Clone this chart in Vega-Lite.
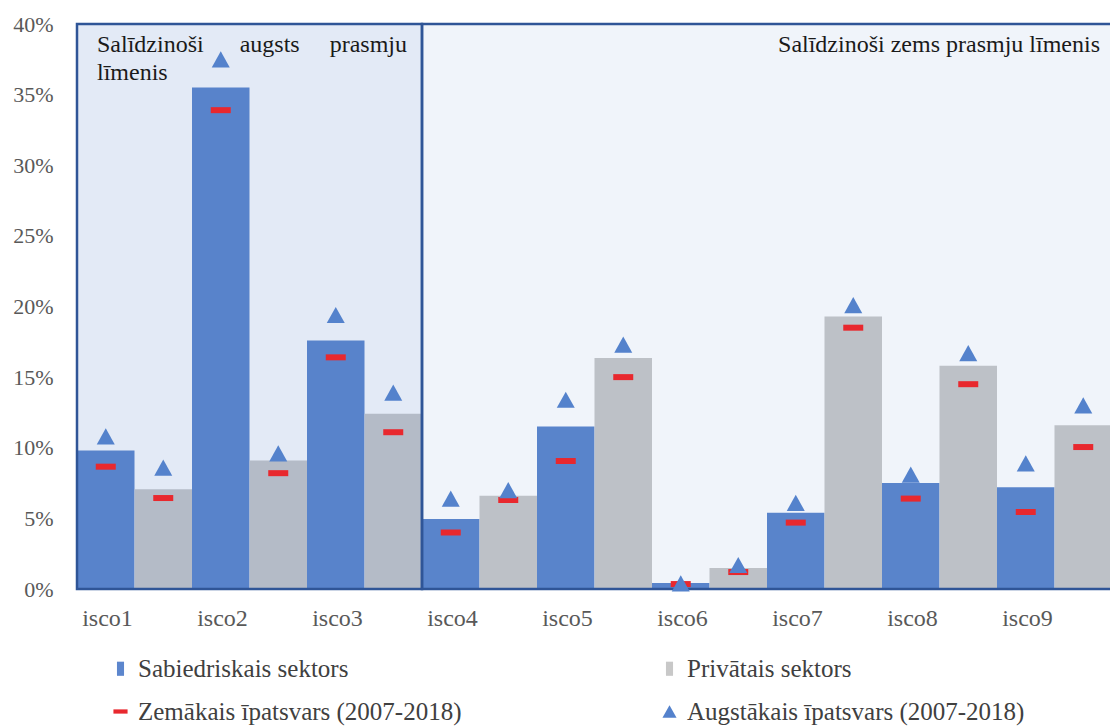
{
  "$schema": "https://vega.github.io/schema/vega-lite/v6.json",
  "autosize": {"type": "none"},
  "padding": {"left": 77, "top": 24, "right": 0, "bottom": 137},
  "width": 1035,
  "height": 565,
  "background": "white",
  "view": {"stroke": null},
  "config": {
    "font": "Liberation Serif",
    "legend": {
      "orient": "none",
      "legendX": 31,
      "legendY": 632,
      "direction": "horizontal",
      "columns": 2,
      "columnPadding": 195,
      "rowPadding": 17,
      "labelFont": "Liberation Serif",
      "labelFontSize": 25,
      "labelColor": "#404040",
      "labelLimit": 500,
      "symbolSize": 200,
      "symbolStrokeWidth": 0,
      "labelOffset": 5,
      "title": null
    }
  },
  "datasets": {
    "bars": [
      {"isco": "isco1", "sector": "Sabiedriskais sektors", "value": 0.098, "low": 0.0866, "high": 0.108},
      {"isco": "isco1", "sector": "Privātais sektors", "value": 0.0707, "low": 0.0644, "high": 0.086},
      {"isco": "isco2", "sector": "Sabiedriskais sektors", "value": 0.355, "low": 0.339, "high": 0.375},
      {"isco": "isco2", "sector": "Privātais sektors", "value": 0.091, "low": 0.082, "high": 0.096},
      {"isco": "isco3", "sector": "Sabiedriskais sektors", "value": 0.176, "low": 0.164, "high": 0.194},
      {"isco": "isco3", "sector": "Privātais sektors", "value": 0.124, "low": 0.111, "high": 0.139},
      {"isco": "isco4", "sector": "Sabiedriskais sektors", "value": 0.0496, "low": 0.040, "high": 0.064},
      {"isco": "isco4", "sector": "Privātais sektors", "value": 0.066, "low": 0.063, "high": 0.070},
      {"isco": "isco5", "sector": "Sabiedriskais sektors", "value": 0.115, "low": 0.0906, "high": 0.134},
      {"isco": "isco5", "sector": "Privātais sektors", "value": 0.1635, "low": 0.150, "high": 0.173},
      {"isco": "isco6", "sector": "Sabiedriskais sektors", "value": 0.0042, "low": 0.0035, "high": 0.004},
      {"isco": "isco6", "sector": "Privātais sektors", "value": 0.0149, "low": 0.012, "high": 0.017},
      {"isco": "isco7", "sector": "Sabiedriskais sektors", "value": 0.054, "low": 0.047, "high": 0.061},
      {"isco": "isco7", "sector": "Privātais sektors", "value": 0.193, "low": 0.185, "high": 0.201},
      {"isco": "isco8", "sector": "Sabiedriskais sektors", "value": 0.075, "low": 0.064, "high": 0.081},
      {"isco": "isco8", "sector": "Privātais sektors", "value": 0.158, "low": 0.145, "high": 0.167},
      {"isco": "isco9", "sector": "Sabiedriskais sektors", "value": 0.072, "low": 0.0545, "high": 0.089},
      {"isco": "isco9", "sector": "Privātais sektors", "value": 0.116, "low": 0.1005, "high": 0.130}
    ],
    "regions": [
      {"start": "isco1", "end": "isco3", "region": "high"},
      {"start": "isco4", "end": "isco9", "region": "low"}
    ]
  },
  "layer": [
    {
      "data": {"name": "bars"},
      "mark": {"type": "bar", "stroke": null},
      "encoding": {
        "x": {
          "field": "isco", "type": "nominal",
          "scale": {"domain": ["isco1","isco2","isco3","isco4","isco5","isco6","isco7","isco8","isco9"], "paddingInner": 0, "paddingOuter": 0},
          "axis": {"title": null, "labelAngle": 0, "domain": false, "ticks": false, "grid": false, "labelOffset": -27, "labelFont": "Liberation Serif", "labelFontSize": 24, "labelColor": "#595959", "labelPadding": 17}
        },
        "xOffset": {"field": "sector", "type": "nominal", "scale": {"domain": ["Sabiedriskais sektors", "Privātais sektors"], "paddingInner": 0, "paddingOuter": 0}},
        "y": {
          "field": "value", "type": "quantitative",
          "scale": {"domain": [0, 0.4], "nice": false},
          "axis": {"title": null, "values": [0,0.05,0.1,0.15,0.2,0.25,0.3,0.35,0.4], "format": ".0%", "domain": false, "ticks": false, "grid": false, "labelFont": "Liberation Serif", "labelFontSize": 22, "labelColor": "#595959", "labelPadding": 24}
        },
        "color": {
          "field": "sector", "type": "nominal",
          "scale": {
            "domain": ["Sabiedriskais sektors", "Privātais sektors", "Zemākais īpatsvars (2007-2018)", "Augstākais īpatsvars (2007-2018)"],
            "range": ["#5C86CD", "#C8C8C8", "#E8282E", "#5482CC"]
          }
        }
      }
    },
    {
      "data": {"name": "regions"},
      "mark": {"type": "rect", "fill": "#4472C4", "stroke": "#2F5597", "strokeWidth": 2.5, "strokeOpacity": 1},
      "encoding": {
        "x": {"field": "start", "type": "nominal", "bandPosition": 0},
        "x2": {"field": "end", "bandPosition": 1},
        "y": {"datum": 0.4, "type": "quantitative"},
        "y2": {"datum": 0},
        "fillOpacity": {"condition": {"test": "datum.region === 'high'", "value": 0.15}, "value": 0.08}
      }
    },
    {
      "data": {"name": "bars"},
      "mark": {"type": "point", "filled": true, "opacity": 1, "size": 400, "strokeWidth": 0},
      "encoding": {
        "x": {"field": "isco", "type": "nominal"},
        "xOffset": {"field": "sector", "type": "nominal"},
        "y": {"field": "low", "type": "quantitative"},
        "color": {"datum": "Zemākais īpatsvars (2007-2018)"},
        "shape": {
          "datum": "Zemākais īpatsvars (2007-2018)",
          "scale": {
            "domain": ["Sabiedriskais sektors", "Privātais sektors", "Zemākais īpatsvars (2007-2018)", "Augstākais īpatsvars (2007-2018)"],
            "range": ["M-0.5,-1H0.5V1H-0.5Z", "M-0.5,-1H0.5V1H-0.5Z", "M-1,-0.3H1V0.3H-1Z", "M-1,0.9L0,-0.9L1,0.9Z"]
          }
        }
      }
    },
    {
      "data": {"name": "bars"},
      "mark": {"type": "point", "filled": true, "opacity": 1, "size": 324, "strokeWidth": 0},
      "encoding": {
        "x": {"field": "isco", "type": "nominal"},
        "xOffset": {"field": "sector", "type": "nominal"},
        "y": {"field": "high", "type": "quantitative"},
        "color": {"datum": "Augstākais īpatsvars (2007-2018)"},
        "shape": {"datum": "Augstākais īpatsvars (2007-2018)"}
      }
    },
    {
      "data": {"values": [{"t": 1}]},
      "mark": {"type": "text", "align": "left", "baseline": "top", "dx": 20, "dy": 9, "fontSize": 24, "font": "Liberation Serif", "color": "#1a1a1a", "lineHeight": 28},
      "encoding": {
        "x": {"datum": "isco1", "type": "nominal", "bandPosition": 0},
        "y": {"datum": 0.4, "type": "quantitative"},
        "text": {"value": ["Salīdzinoši\u00a0\u00a0\u00a0\u00a0\u00a0 augsts\u00a0\u00a0\u00a0\u00a0 prasmju", "līmenis"]}
      }
    },
    {
      "data": {"values": [{"t": 1}]},
      "mark": {"type": "text", "align": "right", "baseline": "top", "dx": -12, "dy": 9, "fontSize": 24, "font": "Liberation Serif", "color": "#1a1a1a"},
      "encoding": {
        "x": {"datum": "isco9", "type": "nominal", "bandPosition": 1},
        "y": {"datum": 0.4, "type": "quantitative"},
        "text": {"value": "Salīdzinoši zems prasmju līmenis"}
      }
    }
  ]
}
